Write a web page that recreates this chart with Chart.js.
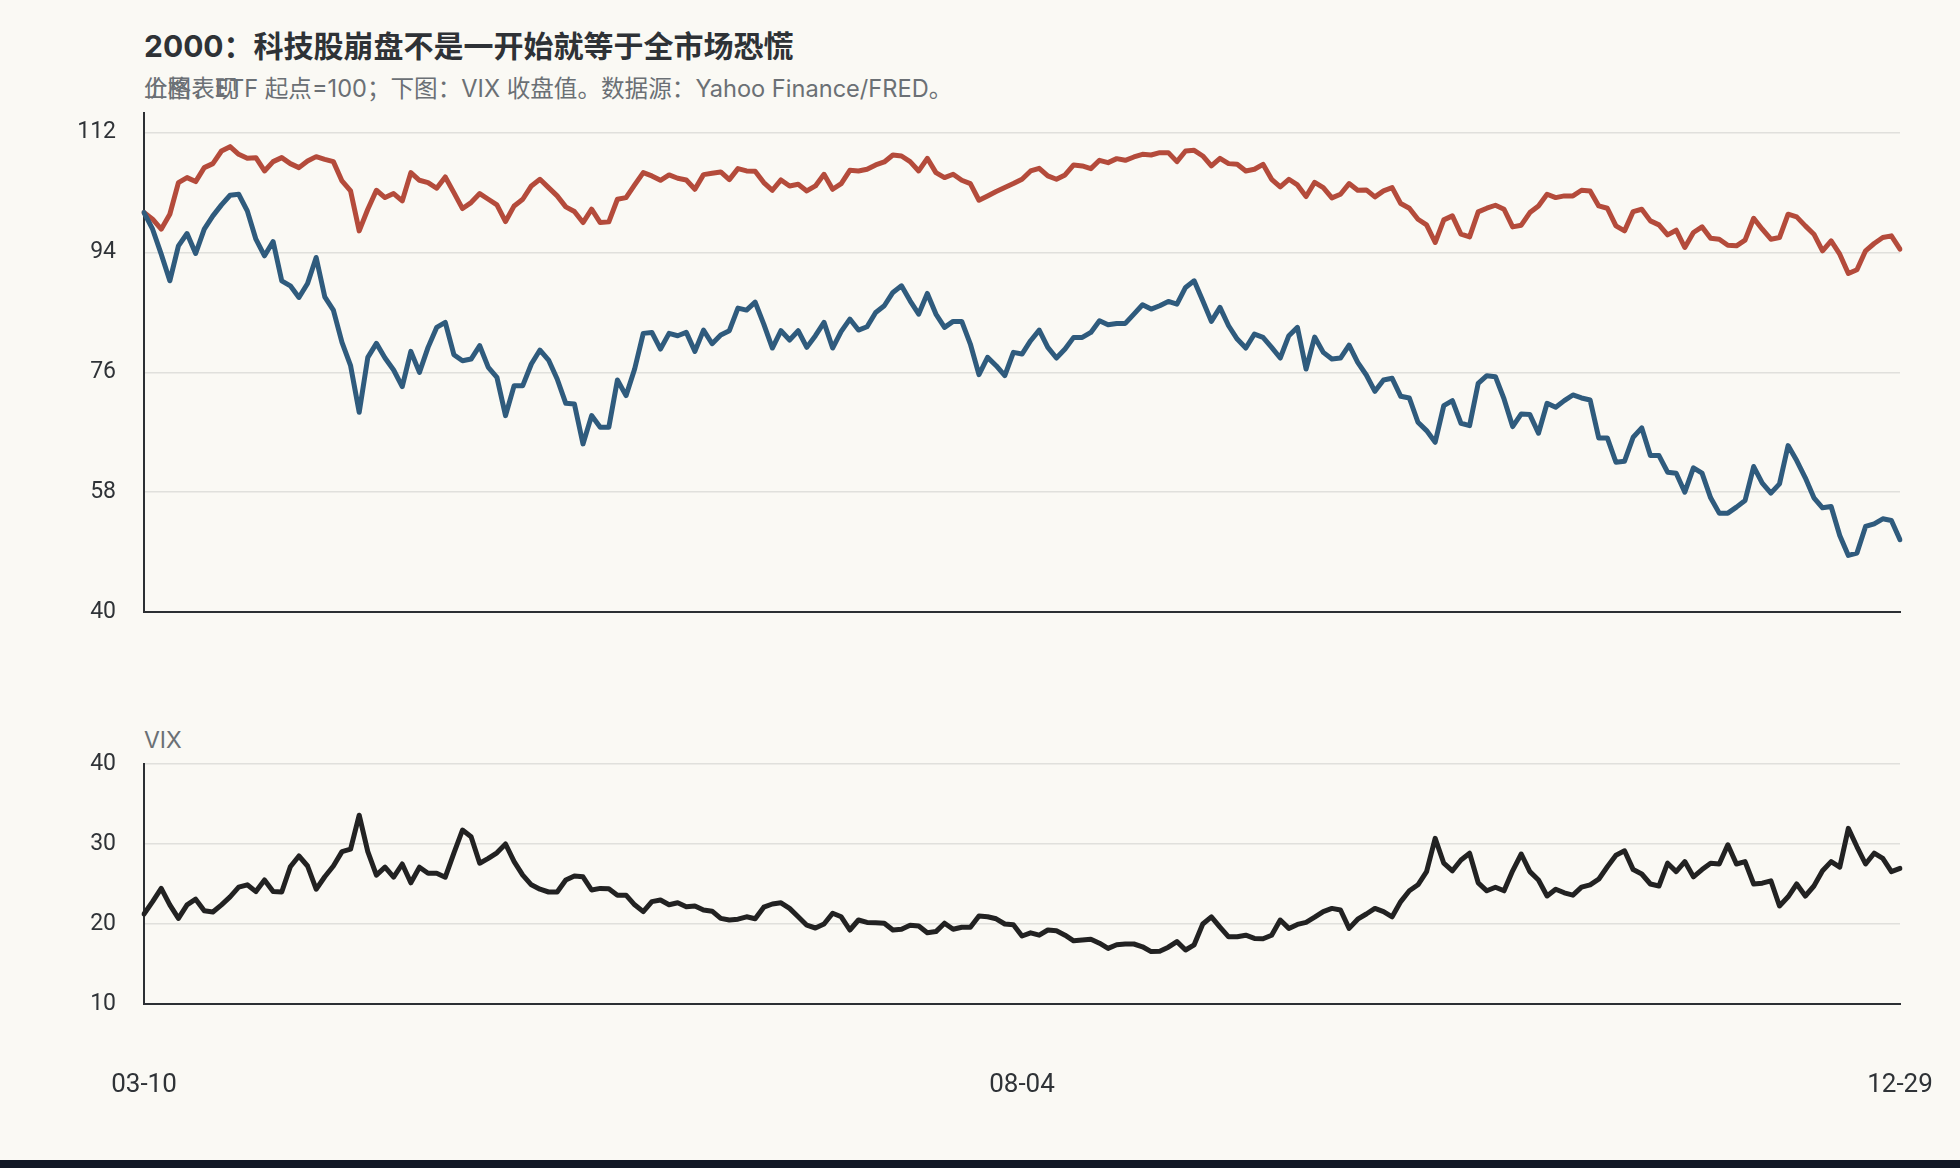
<!DOCTYPE html>
<html>
<head>
<meta charset="utf-8">
<script src="https://cdn.jsdelivr.net/npm/chart.js@4.4.1/dist/chart.umd.min.js"></script>
<style>
  html, body { margin: 0; padding: 0; background: #faf9f4; }
  body { width: 1960px; height: 1168px; position: relative; overflow: hidden; font-family: Inter, "Noto Sans CJK SC", sans-serif; }
  .txt { position: absolute; left: 144px; white-space: nowrap; line-height: 1; }
  #title { top: 31px; font-size: 30px; font-weight: 700; color: #2e3236; }
  .sub { top: 77px; font-size: 23.6px; color: #6b7075; }
  #vixLabel { top: 729px; font-size: 23px; color: #6b7075; }
  #topWrap { position: absolute; left: 0; top: 100px; }
  #botWrap { position: absolute; left: 0; top: 700px; }
  #footer { position: absolute; left: 0; bottom: 0; width: 1960px; height: 8px; background: #121826; }
</style>
</head>
<body>
<div id="title" class="txt">2000：科技股崩盘不是一开始就等于全市场恐慌</div>
<div class="txt sub">上图：ETF 起点=100；下图：VIX 收盘值。数据源：Yahoo Finance/FRED。</div>
<div class="txt sub">价格表现</div>
<div id="vixLabel" class="txt">VIX</div>
<div id="topWrap"><canvas id="priceChart" width="1960" height="545"></canvas></div>
<div id="botWrap"><canvas id="vixChart" width="1960" height="460"></canvas></div>
<div id="footer"></div>
<script>
// trading days, 2000-03-10 .. 2000-12-29
var holidays = ['04-21', '05-29', '07-04', '09-04', '11-23', '12-25'];
var xTickLabels = ['03-10', '08-04', '12-29'];
var priceTicks = [40, 58, 76, 94, 112];
var vixTicks = [10, 20, 30, 40];

// tech ETF, start = 100 (blue)
var techIndex = [
  100, 97.5, 93.75, 89.75, 95.0, 96.85, 93.85, 97.5, 99.5, 101.15,
  102.6, 102.75, 100.25, 96.0, 93.5, 95.65, 89.75, 89.0, 87.25, 89.35,
  93.25, 87.35, 85.35, 80.5, 77.0, 70.0, 78.25, 80.35, 78.15, 76.35,
  73.85, 79.15, 76.0, 79.75, 82.75, 83.5, 78.65, 77.75, 78.0, 80.0,
  76.75, 75.25, 69.5, 74.0, 74.0, 77.25, 79.35, 77.85, 75.0, 71.35,
  71.25, 65.25, 69.5, 67.75, 67.75, 74.85, 72.5, 76.5, 81.85, 82.0,
  79.5, 81.85, 81.5, 82.0, 79.15, 82.35, 80.3, 81.6, 82.25, 85.65,
  85.35, 86.55, 83.25, 79.65, 82.25, 80.85, 82.25, 79.75, 81.5, 83.5,
  79.65, 82.15, 84.0, 82.35, 82.85, 85.0, 86.0, 88.0, 89.0, 86.75,
  84.75, 87.85, 84.75, 82.75, 83.65, 83.65, 80.25, 75.65, 78.25, 77.0,
  75.5, 79.0, 78.75, 80.75, 82.35, 79.75, 78.15, 79.5, 81.25, 81.25,
  82.0, 83.75, 83.15, 83.35, 83.35, 84.75, 86.15, 85.5, 86.0, 86.65,
  86.25, 88.75, 89.75, 86.75, 83.65, 85.75, 83.0, 81.0, 79.65, 81.75,
  81.25, 79.75, 78.15, 81.5, 82.75, 76.5, 81.3, 79.0, 78.0, 78.15,
  80.1, 77.5, 75.6, 73.15, 74.85, 75.1, 72.4, 72.15, 68.5, 67.25,
  65.5, 71.0, 71.75, 68.35, 68.0, 74.35, 75.5, 75.35, 72.0, 67.85,
  69.75, 69.65, 66.85, 71.35, 70.75, 71.75, 72.6, 72.15, 71.85, 66.15,
  66.15, 62.5, 62.65, 66.25, 67.65, 63.5, 63.5, 61.0, 60.85, 58.0,
  61.65, 60.85, 57.15, 54.85, 54.85, 55.75, 56.75, 61.85, 59.35, 57.85,
  59.25, 65.0, 62.75, 60.15, 57.15, 55.65, 55.85, 51.5, 48.5, 48.85,
  52.85, 53.25, 54.0, 53.75, 50.85
];

// broad market ETF, start = 100 (red)
var broadIndex = [
  100, 99.0, 97.5, 99.75, 104.5, 105.25, 104.65, 106.75, 107.35, 109.25,
  109.9, 108.75, 108.15, 108.25, 106.25, 107.65, 108.25, 107.35, 106.75, 107.75,
  108.4, 108.0, 107.65, 104.75, 103.25, 97.25, 100.5, 103.35, 102.25, 102.85,
  101.75, 106.0, 104.85, 104.5, 103.65, 105.35, 103.0, 100.6, 101.5, 102.85,
  102.0, 101.15, 98.65, 101.0, 102.0, 104.0, 105.0, 103.75, 102.5, 100.85,
  100.15, 98.5, 100.5, 98.5, 98.6, 102.0, 102.25, 104.15, 106.0, 105.5,
  104.85, 105.65, 105.15, 104.9, 103.5, 105.7, 105.9, 106.1, 104.95, 106.6,
  106.25, 106.2, 104.5, 103.35, 104.9, 104.0, 104.25, 103.25, 104.0, 105.75,
  103.5, 104.35, 106.35, 106.25, 106.5, 107.15, 107.6, 108.65, 108.5, 107.65,
  106.25, 108.15, 106.0, 105.25, 105.75, 104.85, 104.35, 101.85, 102.5, 103.15,
  103.75, 104.35, 105.0, 106.25, 106.65, 105.5, 105.0, 105.65, 107.15, 107.0,
  106.6, 107.85, 107.5, 108.1, 107.85, 108.35, 108.75, 108.65, 109.0, 109.0,
  107.65, 109.25, 109.35, 108.5, 107.0, 108.15, 107.35, 107.25, 106.25, 106.5,
  107.25, 105.0, 103.85, 105.0, 104.15, 102.4, 104.55, 103.75, 102.2, 102.75,
  104.35, 103.35, 103.4, 102.35, 103.25, 103.75, 101.35, 100.65, 99.0, 98.15,
  95.5, 98.9, 99.5, 96.75, 96.35, 100.1, 100.65, 101.1, 100.5, 97.85,
  98.1, 100.0, 101.0, 102.75, 102.25, 102.5, 102.5, 103.35, 103.25, 101.0,
  100.65, 98.0, 97.25, 100.15, 100.5, 98.75, 98.15, 96.65, 97.35, 94.75,
  97.0, 97.85, 96.15, 96.0, 95.1, 95.0, 95.85, 99.15, 97.5, 96.0,
  96.25, 99.75, 99.35, 98.0, 96.75, 94.25, 95.75, 93.75, 90.85, 91.4,
  94.25, 95.35, 96.25, 96.5, 94.5
];

// VIX close (black)
var vixClose = [
  21.25, 22.8, 24.45, 22.4, 20.7, 22.4, 23.1, 21.65, 21.5, 22.4,
  23.4, 24.6, 24.9, 24.05, 25.5, 24.05, 24.0, 27.15, 28.5, 27.25,
  24.35, 25.9, 27.25, 29.05, 29.35, 33.6, 29.05, 26.1, 27.1, 25.85,
  27.5, 25.15, 27.1, 26.35, 26.35, 25.85, 28.85, 31.75, 30.9, 27.6,
  28.2, 28.9, 30.0, 27.8, 26.1, 24.9, 24.35, 24.0, 24.0, 25.5,
  26.0, 25.9, 24.25, 24.45, 24.4, 23.6, 23.6, 22.4, 21.55, 22.8,
  23.0, 22.4, 22.65, 22.15, 22.25, 21.75, 21.6, 20.7, 20.5, 20.6,
  20.9, 20.65, 22.1, 22.5, 22.65, 21.95, 20.9, 19.85, 19.5, 20.0,
  21.35, 20.9, 19.25, 20.5, 20.2, 20.15, 20.1, 19.25, 19.35, 19.85,
  19.75, 18.9, 19.05, 20.1, 19.35, 19.6, 19.6, 21.0, 20.9, 20.65,
  20.0, 19.9, 18.5, 18.9, 18.6, 19.25, 19.15, 18.6, 17.9, 18.0,
  18.1, 17.6, 16.95, 17.4, 17.5, 17.5, 17.15, 16.55, 16.6, 17.1,
  17.8, 16.75, 17.4, 20.0, 20.9, 19.6, 18.4, 18.4, 18.6, 18.2,
  18.15, 18.6, 20.5, 19.45, 19.95, 20.2, 20.85, 21.55, 21.95, 21.75,
  19.45, 20.6, 21.25, 21.95, 21.55, 20.9, 22.8, 24.15, 24.9, 26.55,
  30.7, 27.6, 26.65, 28.0, 28.85, 25.15, 24.15, 24.6, 24.15, 26.65,
  28.75, 26.55, 25.5, 23.5, 24.35, 23.9, 23.6, 24.6, 24.9, 25.6,
  27.15, 28.6, 29.15, 26.8, 26.25, 25.0, 24.75, 27.6, 26.55, 27.8,
  25.9, 26.8, 27.6, 27.5, 29.9, 27.5, 27.8, 25.0, 25.1, 25.4,
  22.25, 23.4, 25.0, 23.5, 24.75, 26.65, 27.8, 27.1, 31.95, 29.65,
  27.5, 28.85, 28.2, 26.55, 26.95
];

var blue = '#2f5b7d';
var red = '#b44b3b';
var black = '#222222';
var gridColor = '#e0e0dc';
var axisColor = '#2c2f33';
var tickColor = '#2f3337';
var yFont = { family: 'Roboto, "Noto Sans CJK SC", sans-serif', size: 23 };
var xFont = { family: 'Roboto, "Noto Sans CJK SC", sans-serif', size: 26 };

function pad2(n) { return (n < 10 ? '0' : '') + n; }
var dates = [];
var d = new Date(2000, 2, 10);
var end = new Date(2000, 11, 29);
while (d <= end) {
  var md = pad2(d.getMonth() + 1) + '-' + pad2(d.getDate());
  if (d.getDay() != 0 && d.getDay() != 6 && holidays.indexOf(md) < 0) dates.push(md);
  d.setDate(d.getDate() + 1);
}

var lineEl = { borderWidth: 5, tension: 0, borderJoinStyle: 'round', borderCapStyle: 'round' };

// fixed axis sizes, no extra label padding, so the plot areas line up
function fixY(s) { s.width = 144; s.paddingTop = 0; s.paddingBottom = 0; }

new Chart(document.getElementById('priceChart'), {
  type: 'line',
  data: {
    labels: dates,
    datasets: [
      { label: '科技', data: techIndex, borderColor: blue },
      { label: '大盘', data: broadIndex, borderColor: red }
    ]
  },
  options: {
    responsive: false,
    animation: false,
    layout: { padding: { top: 12.7, right: 60, bottom: 33, left: 0 } },
    plugins: { legend: { display: false }, tooltip: { enabled: false } },
    elements: { point: { radius: 0 }, line: lineEl },
    scales: {
      x: {
        ticks: { display: false },
        grid: { display: false, drawTicks: false },
        border: { display: true, color: axisColor, width: 2 },
        afterFit: function(s) { s.height = 0; s.paddingLeft = 0; s.paddingRight = 0; }
      },
      y: {
        min: 40, max: 115,
        afterBuildTicks: function(s) { s.ticks = priceTicks.map(function(v) { return { value: v }; }); },
        afterFit: fixY,
        ticks: { padding: 28, color: tickColor, font: yFont },
        grid: { color: gridColor, lineWidth: 1.5, drawTicks: false },
        border: { display: true, color: axisColor, width: 2 }
      }
    }
  }
});

new Chart(document.getElementById('vixChart'), {
  type: 'line',
  data: {
    labels: dates,
    datasets: [{ label: 'VIX', data: vixClose, borderColor: black }]
  },
  options: {
    responsive: false,
    animation: false,
    layout: { padding: { top: 64, right: 60, bottom: 0, left: 0 } },
    plugins: { legend: { display: false }, tooltip: { enabled: false } },
    elements: { point: { radius: 0 }, line: lineEl },
    scales: {
      x: {
        afterBuildTicks: function(s) {
          s.ticks = s.ticks.filter(function(t) { return xTickLabels.indexOf(dates[t.value]) >= 0; });
        },
        afterFit: function(s) { s.height = 156; s.paddingLeft = 0; s.paddingRight = 0; },
        ticks: { autoSkip: false, maxRotation: 0, padding: 66, color: tickColor, font: xFont },
        grid: { display: false, drawTicks: false },
        border: { display: true, color: axisColor, width: 2 }
      },
      y: {
        min: 10, max: 40,
        afterBuildTicks: function(s) { s.ticks = vixTicks.map(function(v) { return { value: v }; }); },
        afterFit: fixY,
        ticks: { padding: 28, color: tickColor, font: yFont },
        grid: { color: gridColor, lineWidth: 1.5, drawTicks: false },
        border: { display: true, color: axisColor, width: 2 }
      }
    }
  }
});
</script>
</body>
</html>
